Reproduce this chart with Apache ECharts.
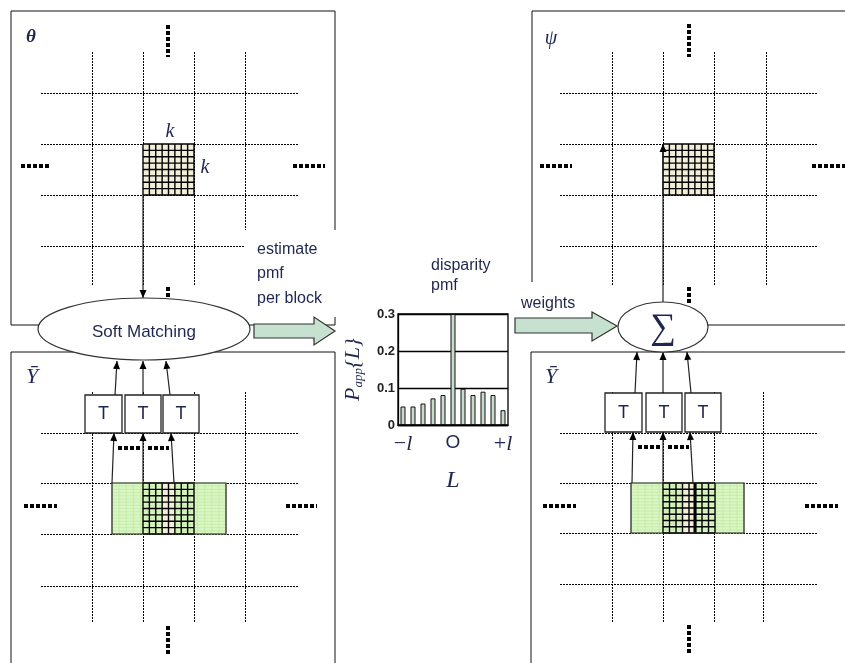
<!DOCTYPE html>
<html>
<head>
<meta charset="utf-8">
<script src="https://cdn.jsdelivr.net/npm/echarts@6/dist/echarts.min.js"></script>
<style>
  html, body { margin: 0; padding: 0; background: #fff; }
  #main { width: 845px; height: 663px; }
</style>
</head>
<body>
<div id="main"></div>
<script>
// disparity pmf (bar chart in the middle)
var categories = ['−l', '', '', '', '', 'O', '', '', '', '', '+l'];
var pmfValues = [0.05, 0.05, 0.058, 0.072, 0.081, 0.3, 0.098, 0.081, 0.09, 0.081, 0.04];
var yMin = 0, yMax = 0.3, yStep = 0.1;

var INK = '#1f2650';
var SANS = "Arial, 'Liberation Sans', sans-serif";
var SERIF = "'Times New Roman', 'Liberation Serif', serif";

var els = [];
function ln(x1, y1, x2, y2, w, dash, col) {
  els.push({ type: 'line', silent: true, z: 1,
    shape: { x1: x1, y1: y1, x2: x2, y2: y2 },
    style: { stroke: col || '#111', lineWidth: w || 1, lineDash: dash || null } });
}
// crisp dotted grid line (half-pixel aligned)
function dotted(x1, y1, x2, y2) {
  if (x1 === x2) { x1 += 0.5; x2 += 0.5; } else { y1 += 0.5; y2 += 0.5; }
  ln(x1, y1, x2, y2, 1, [2, 1], '#000');
}
function bigDots(x1, y1, x2, y2) { ln(x1, y1, x2, y2, 4, [4, 2], '#000'); }
function arrow(x1, y1, x2, y2, col) {
  ln(x1, y1, x2, y2, 1.2, null, col || '#222');
  var a = Math.atan2(y2 - y1, x2 - x1), L = 8, H = 3.5;
  var bx = x2 - L * Math.cos(a), by = y2 - L * Math.sin(a);
  els.push({ type: 'polygon', silent: true, z: 2,
    shape: { points: [[x2, y2], [bx - H * Math.sin(a), by + H * Math.cos(a)], [bx + H * Math.sin(a), by - H * Math.cos(a)]] },
    style: { fill: '#000' } });
}
function rect(x, y, w, h, fill, stroke, lw) {
  els.push({ type: 'rect', silent: true, z: 1,
    shape: { x: x, y: y, width: w, height: h },
    style: { fill: fill || 'none', stroke: stroke || null, lineWidth: lw || 1 } });
}
function txt(s, x, y, font, col, align) {
  els.push({ type: 'text', silent: true, z: 5,
    style: { text: s, x: x, y: y, font: font, fill: col || INK, align: align || 'center', verticalAlign: 'middle' } });
}
function lattice(x, y, w, h, n, col, lw) {
  for (var i = 0; i <= n; i++) {
    ln(x + w * i / n, y, x + w * i / n, y + h, lw, null, col);
    ln(x, y + h * i / n, x + w, y + h * i / n, lw, null, col);
  }
}
function blockGrid(vx, hy, vy0, vy1, hx0, hx1) {
  vx.forEach(function (x, i) { dotted(x, vy0, x, vy1[i]); });
  hy.forEach(function (y, i) { dotted(hx0, y, hx1[i], y); });
}

// ---- top-left panel (theta)
blockGrid([92, 143, 194, 245], [93, 144, 195, 246], 52, [285, 285, 285, 230], 41, [299, 299, 299, 245]);
rect(143, 144, 51, 51, '#f3eed9');
lattice(143, 144, 51, 51, 8, '#000', 1.4);
bigDots(168, 25, 168, 57); bigDots(21, 166, 50, 166); bigDots(293, 166, 325, 166); bigDots(168, 287, 168, 301);
ln(11, 11, 335, 11); ln(11, 11, 11, 325); ln(335, 11, 335, 230); ln(335, 317, 335, 325); ln(11, 325, 335, 325);
arrow(143, 195, 143, 298);

// ---- bottom-left panel (Y bar)
blockGrid([92, 143, 194, 245], [433, 483, 534, 586], 392, [623, 623, 623, 623], 41, [299, 299, 299, 299]);
rect(112, 483, 114, 51, '#d9f6c3');
lattice(112, 483, 114, 51, 16, '#c3eaa6', 0.8);
rect(163, 483, 11, 51, '#f3eed9');
lattice(143, 483, 51, 51, 8, '#000', 1.4);
rect(112, 483, 114, 51, null, '#222', 1.2);
bigDots(24, 506, 57, 506); bigDots(286, 506, 317, 506); bigDots(168, 626, 168, 655);
bigDots(118, 448, 141, 448); bigDots(148, 448, 169, 448);
ln(11, 352, 335, 352); ln(11, 352, 11, 663); ln(335, 352, 335, 663);
arrow(112, 483, 114, 433); arrow(143, 483, 143, 433); arrow(174, 483, 171, 433);
[[85, 122], [125, 161], [163, 199]].forEach(function (b) {
  rect(b[0], 395, b[1] - b[0], 38, '#fff', '#222', 1.3);
  txt('T', (b[0] + b[1]) / 2, 414, '18px ' + SANS, INK);
});
arrow(115, 395, 117, 361); arrow(143, 395, 143, 361); arrow(170, 395, 166, 361);

// ---- top-right panel (psi)
blockGrid([612, 663, 714, 766], [93, 144, 195, 246], 52, [285, 285, 285, 285], 560, [818, 818, 818, 818]);
rect(663, 144, 51, 51, '#f3eed9');
lattice(663, 144, 51, 51, 8, '#000', 1.4);
bigDots(689, 24, 689, 57); bigDots(540, 166, 572, 166); bigDots(812, 166, 845, 166); bigDots(689, 287, 689, 305);
ln(532, 11, 845, 11); ln(532, 11, 532, 282); ln(618, 325, 845, 325);
arrow(663, 303, 663, 144);

// ---- bottom-right panel (Y bar)
blockGrid([612, 663, 714, 763], [433, 483, 533, 584], 392, [623, 623, 623, 623], 560, [818, 818, 818, 818]);
rect(631, 483, 113, 50, '#d9f6c3');
lattice(631, 483, 113, 50, 16, '#c3eaa6', 0.8);
rect(682, 483, 12, 50, '#f3eed9');
lattice(663, 483, 52, 50, 8, '#000', 1.4);
ln(695, 483, 695, 533, 3, null, '#000');
rect(631, 483, 113, 50, null, '#222', 1.2);
bigDots(543, 506, 576, 506); bigDots(805, 506, 838, 506); bigDots(689, 625, 689, 655);
bigDots(638, 447, 660, 447); bigDots(668, 447, 689, 447);
ln(531, 352, 845, 352); ln(531, 352, 531, 663);
arrow(632, 483, 633, 432); arrow(663, 483, 663, 432); arrow(693, 483, 690, 432);
[[605, 642], [646, 682], [685, 721]].forEach(function (b) {
  rect(b[0], 393, b[1] - b[0], 39, '#fff', '#222', 1.3);
  txt('T', (b[0] + b[1]) / 2, 413, '18px ' + SANS, INK);
});
arrow(635, 393, 637, 352); arrow(663, 393, 663, 352); arrow(691, 393, 687, 352);

// ---- block arrows and ellipses
els.push({ type: 'polygon', silent: true, z: 3,
  shape: { points: [[254, 324], [314, 324], [314, 317], [335, 331], [314, 345], [314, 338], [254, 338]] },
  style: { fill: '#c6e1cf', stroke: '#333', lineWidth: 1.2 } });
els.push({ type: 'polygon', silent: true, z: 3,
  shape: { points: [[515, 318], [592, 318], [592, 312], [617, 326], [592, 341], [592, 333], [515, 333]] },
  style: { fill: '#c6e1cf', stroke: '#333', lineWidth: 1.2 } });
els.push({ type: 'ellipse', silent: true, z: 4,
  shape: { cx: 144, cy: 329, rx: 106, ry: 31 }, style: { fill: '#fff', stroke: '#333', lineWidth: 1.2 } });
els.push({ type: 'ellipse', silent: true, z: 4,
  shape: { cx: 663, cy: 327, rx: 45, ry: 25 }, style: { fill: '#fff', stroke: '#333', lineWidth: 1.2 } });

// ---- texts
txt('Soft Matching', 144, 332, '17px ' + SANS, INK);
txt('∑', 663, 329, '36px ' + SERIF, INK);
txt('θ', 31, 37, 'italic bold 19px ' + SERIF, INK);
txt('ψ', 551, 39, 'italic 20px ' + SERIF, INK);
txt('Ȳ', 32, 377, 'italic 22px ' + SERIF, INK);
txt('Ȳ', 551, 377, 'italic 22px ' + SERIF, INK);
txt('k', 170, 132, 'italic 20px ' + SERIF, INK);
txt('k', 205, 168, 'italic 20px ' + SERIF, INK);
txt('estimate', 257, 250, '16px ' + SANS, INK, 'left');
txt('pmf', 257, 274, '16px ' + SANS, INK, 'left');
txt('per block', 257, 299, '16px ' + SANS, INK, 'left');
txt('disparity', 431, 266, '16px ' + SANS, INK, 'left');
txt('pmf', 431, 286, '16px ' + SANS, INK, 'left');
txt('weights', 521, 304, '16px ' + SANS, INK, 'left');

var chart = echarts.init(document.getElementById('main'));
chart.setOption({
  animation: false,
  backgroundColor: '#fff',
  grid: { left: 398, top: 314, width: 110, height: 111, show: true, borderColor: '#000', borderWidth: 1.3, containLabel: false },
  xAxis: {
    type: 'category', data: categories, boundaryGap: true,
    axisLine: { lineStyle: { color: '#000', width: 1.3 } },
    axisTick: { show: false },
    axisLabel: {
      interval: 0, margin: 8, fontSize: 22, fontFamily: SERIF, color: INK,
      formatter: function (v) {
        if (v === 'O') return '{o|O}';
        if (!v) return '';
        return v.charAt(0) + '{i|l}';
      },
      rich: { o: { fontFamily: SANS, fontSize: 19, color: INK }, i: { fontStyle: 'italic', fontFamily: SERIF, fontSize: 22, color: INK } }
    },
    name: 'L', nameLocation: 'middle', nameGap: 44,
    nameTextStyle: { fontFamily: SERIF, fontStyle: 'italic', fontSize: 24, color: INK }
  },
  yAxis: {
    type: 'value', min: yMin, max: yMax, interval: yStep,
    axisLine: { show: true, lineStyle: { color: '#000', width: 1.3 } },
    axisTick: { show: false },
    splitLine: { lineStyle: { color: '#000', width: 1.3 } },
    axisLabel: { margin: 3, fontSize: 13, fontWeight: 'bold', fontFamily: SANS, color: '#222',
      formatter: function (v) { return v === 0 ? '0' : v.toFixed(1); } },
    name: '{p|P}{s|app}{L}', nameLocation: 'middle', nameGap: 33, nameRotate: 90,
    nameTextStyle: {
      fontFamily: SERIF, fontStyle: 'italic', fontSize: 22, color: INK,
      rich: { p: { fontFamily: SERIF, fontStyle: 'italic', fontSize: 22, color: INK },
              s: { fontFamily: SERIF, fontStyle: 'italic', fontSize: 13, color: INK, verticalAlign: 'bottom', padding: [10, 0, 0, 0] } }
    }
  },
  series: [{
    type: 'bar', data: pmfValues, barWidth: 5,
    itemStyle: { color: '#c8dccb', borderColor: '#111', borderWidth: 1 }
  }],
  graphic: { elements: els }
});
</script>
</body>
</html>
